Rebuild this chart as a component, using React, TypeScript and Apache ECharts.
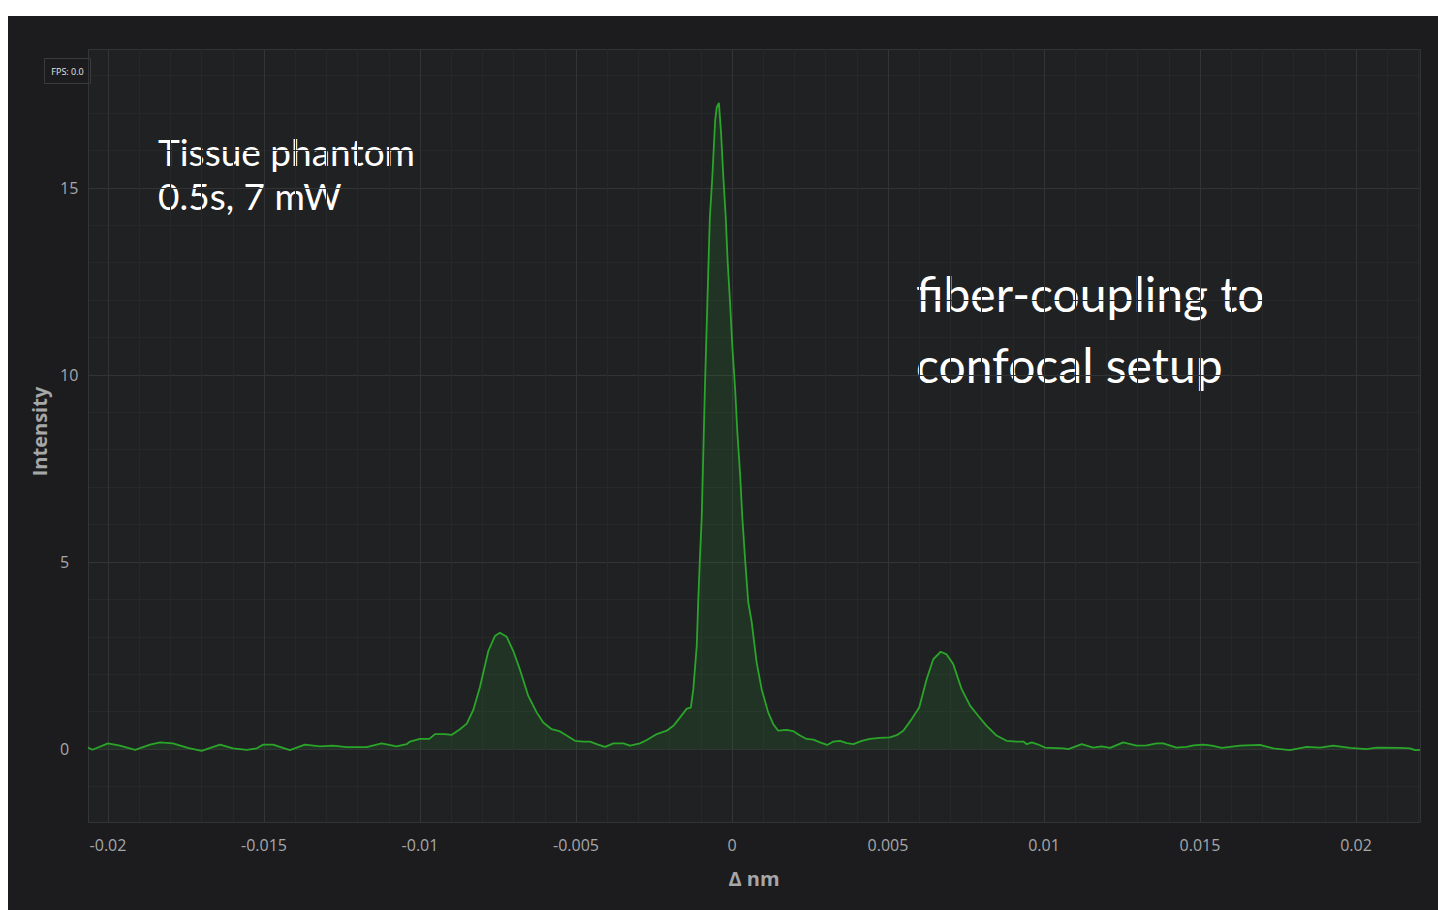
import React, { useEffect, useRef } from "react";
import * as echarts from "echarts";

// Δ nm positions of the sampled trace
const deltaNm: number[] = [
  -0.02064, -0.0205, -0.02, -0.01962, -0.01913, -0.01865, -0.01833, -0.01792, -0.01744, -0.017,
  -0.01641, -0.01599, -0.01555, -0.01523, -0.01502, -0.01471, -0.01417, -0.01369, -0.01321, -0.01279,
  -0.01235, -0.01171, -0.01123, -0.01075, -0.01043, -0.01032, -0.01, -0.0097, -0.00952, -0.0092,
  -0.00898, -0.00872, -0.0085, -0.00829, -0.00808, -0.00781, -0.0076, -0.00744, -0.00722, -0.00701,
  -0.0068, -0.00653, -0.00626, -0.00605, -0.00578, -0.00551, -0.0053, -0.00503, -0.00477, -0.00455,
  -0.00429, -0.00407, -0.0038, -0.00348, -0.00327, -0.00295, -0.00273, -0.00241, -0.00209, -0.00188,
  -0.00167, -0.00145, -0.00132, -0.00124, -0.00113, -0.00108, -0.00103, -0.00097, -0.00092, -0.00087,
  -0.00081, -0.00076, -0.00071, -0.00063, -0.00054, -0.00049, -0.00042, -0.00035, -0.00028, -0.0002,
  -0.00014, -0.00006, 0.00001, 0.0001, 0.00017, 0.00026, 0.00033, 0.00042, 0.00052, 0.00063,
  0.00079, 0.00095, 0.00116, 0.00132, 0.00148, 0.00175, 0.00196, 0.00218, 0.00239, 0.00261,
  0.00282, 0.00305, 0.00325, 0.00346, 0.00368, 0.00389, 0.00416, 0.00442, 0.00474, 0.00506,
  0.00528, 0.00549, 0.00576, 0.006, 0.00624, 0.00645, 0.00669, 0.00688, 0.00709, 0.00736,
  0.00763, 0.00789, 0.00816, 0.00848, 0.0088, 0.00913, 0.00934, 0.00945, 0.00961, 0.00982,
  0.01003, 0.01062, 0.01078, 0.01121, 0.01158, 0.01185, 0.01212, 0.01254, 0.01297, 0.01329,
  0.01361, 0.01382, 0.01425, 0.01457, 0.01479, 0.01511, 0.01538, 0.0157, 0.01628, 0.01692,
  0.01735, 0.01788, 0.01842, 0.01885, 0.01927, 0.01981, 0.02034, 0.02066, 0.02141, 0.02173,
  0.02189, 0.02205,
];

// Intensity values of the trace
const intensity: number[] = [
  0.04, -0.02, 0.15, 0.09, -0.02, 0.12, 0.18, 0.15, 0.03, -0.05,
  0.12, 0.02, -0.02, 0.02, 0.12, 0.12, -0.03, 0.12, 0.07, 0.09,
  0.05, 0.05, 0.15, 0.07, 0.13, 0.2, 0.27, 0.27, 0.4, 0.4,
  0.38, 0.53, 0.68, 1.05, 1.65, 2.62, 3.02, 3.11, 3.0, 2.62,
  2.13, 1.42, 0.98, 0.71, 0.53, 0.47, 0.36, 0.22, 0.2, 0.2,
  0.12, 0.06, 0.15, 0.15, 0.09, 0.15, 0.24, 0.4, 0.49, 0.62,
  0.84, 1.08, 1.11, 1.6, 2.76, 4.0, 5.07, 6.2, 7.9, 9.6,
  11.33, 12.8, 14.2, 15.3, 16.8, 17.15, 17.27, 16.46, 15.32, 14.2,
  13.04, 11.9, 10.77, 9.63, 8.48, 7.34, 6.2, 5.07, 3.93, 3.4,
  2.31, 1.6, 0.98, 0.67, 0.49, 0.51, 0.48, 0.36, 0.27, 0.25,
  0.18, 0.11, 0.2, 0.22, 0.16, 0.13, 0.22, 0.27, 0.3, 0.31,
  0.37, 0.49, 0.8, 1.11, 1.87, 2.4, 2.6, 2.53, 2.27, 1.6,
  1.16, 0.89, 0.62, 0.36, 0.22, 0.2, 0.2, 0.13, 0.18, 0.12,
  0.04, 0.02, 0.0, 0.13, 0.04, 0.07, 0.03, 0.18, 0.09, 0.1,
  0.15, 0.15, 0.04, 0.06, 0.1, 0.12, 0.09, 0.03, 0.09, 0.11,
  0.02, -0.03, 0.06, 0.04, 0.09, 0.03, 0.0, 0.04, 0.03, 0.02,
  -0.03, -0.02,
];

const xRange = [-0.020641, 0.022051];
const yRange = [-1.95, 18.71];
const annotationLeft = ["Tissue phantom", "0.5s, 7 mW"];
const annotationRight = ["fiber-coupling to", "confocal setup"];
const fpsText = "FPS: 0.0";

export default function App() {
  const ref = useRef<HTMLDivElement>(null);

  useEffect(() => {
    if (!ref.current) return;
    const chart = echarts.init(ref.current, null, { renderer: "svg" });
    const data = deltaNm.map((x, i) => [x, intensity[i]]);
    const labelColor = "#a6a7a9";
    chart.setOption({
      animation: false,
      backgroundColor: "#1c1c1e",
      grid: {
        left: 80,
        right: 18,
        top: 33,
        bottom: 88,
        show: true,
        backgroundColor: "#202123",
        borderWidth: 0,
      },
      xAxis: {
        type: "value",
        min: xRange[0],
        max: xRange[1],
        minInterval: 0.005,
        maxInterval: 0.005,
        splitNumber: 8,
        name: "Δ nm",
        nameLocation: "middle",
        nameGap: 46,
        nameTextStyle: { color: labelColor, fontSize: 20, fontWeight: "bold", fontFamily: "Open Sans" },
        axisLine: { show: false },
        axisTick: { show: false },
        axisLabel: {
          color: labelColor,
          fontSize: 16,
          fontFamily: "Open Sans",
          margin: 15,
          showMinLabel: false,
          showMaxLabel: false,
          formatter: (v: number) => String(Math.round(v * 100000) / 100000),
        },
        splitLine: { show: true, lineStyle: { color: "#333436", width: 1 } },
        minorTick: { show: false, splitNumber: 5 },
        minorSplitLine: { show: true, lineStyle: { color: "#27282a", width: 1 } },
      },
      yAxis: {
        type: "value",
        min: yRange[0],
        max: yRange[1],
        minInterval: 5,
        maxInterval: 5,
        name: "Intensity",
        nameLocation: "middle",
        nameGap: 36,
        nameRotate: 90,
        nameTextStyle: {
          color: labelColor,
          fontSize: 20,
          fontWeight: "bold",
          fontFamily: "Open Sans",
          padding: [0, 0, 0, 8],
        },
        axisLine: { show: false },
        axisTick: { show: false },
        axisLabel: {
          color: labelColor,
          fontSize: 16,
          fontFamily: "Open Sans",
          margin: 28,
          align: "left",
          showMinLabel: false,
          showMaxLabel: false,
        },
        splitLine: { show: true, lineStyle: { color: "#333436", width: 1 } },
        minorTick: { show: false, splitNumber: 5 },
        minorSplitLine: { show: true, lineStyle: { color: "#27282a", width: 1 } },
      },
      series: [
        {
          type: "line",
          data,
          showSymbol: false,
          symbol: "none",
          lineStyle: { color: "#2aa52a", width: 1.8 },
          areaStyle: { color: "rgba(41,163,41,0.2)" },
        },
      ],
      graphic: [
        {
          type: "rect",
          shape: { x: 36.5, y: 42.5, width: 46, height: 25 },
          style: { fill: "#1c1c1e", stroke: "#3a3b3d", lineWidth: 1 },
        },
        {
          type: "text",
          x: 59.5,
          y: 55,
          style: {
            text: fpsText,
            fill: "#e6e6e6",
            fontSize: 9,
            fontFamily: "Open Sans",
            textAlign: "center",
            textVerticalAlign: "middle",
          },
        },
        {
          type: "text",
          x: 150,
          y: 113,
          style: {
            text: annotationLeft.join("\n"),
            fill: "#ffffff",
            fontSize: 37,
            lineHeight: 44,
            fontFamily: "Lato",
            textAlign: "left",
            textVerticalAlign: "top",
          },
        },
        {
          type: "text",
          x: 908,
          y: 242,
          style: {
            text: annotationRight.join("\n"),
            fill: "#ffffff",
            fontSize: 48,
            lineHeight: 71,
            fontFamily: "Lato",
            textAlign: "left",
            textVerticalAlign: "top",
          },
        },
      ],
    });
    return () => chart.dispose();
  }, []);

  return (
    <div
      ref={ref}
      style={{ position: "fixed", left: 8, top: 16, width: 1430, height: 894 }}
    />
  );
}
